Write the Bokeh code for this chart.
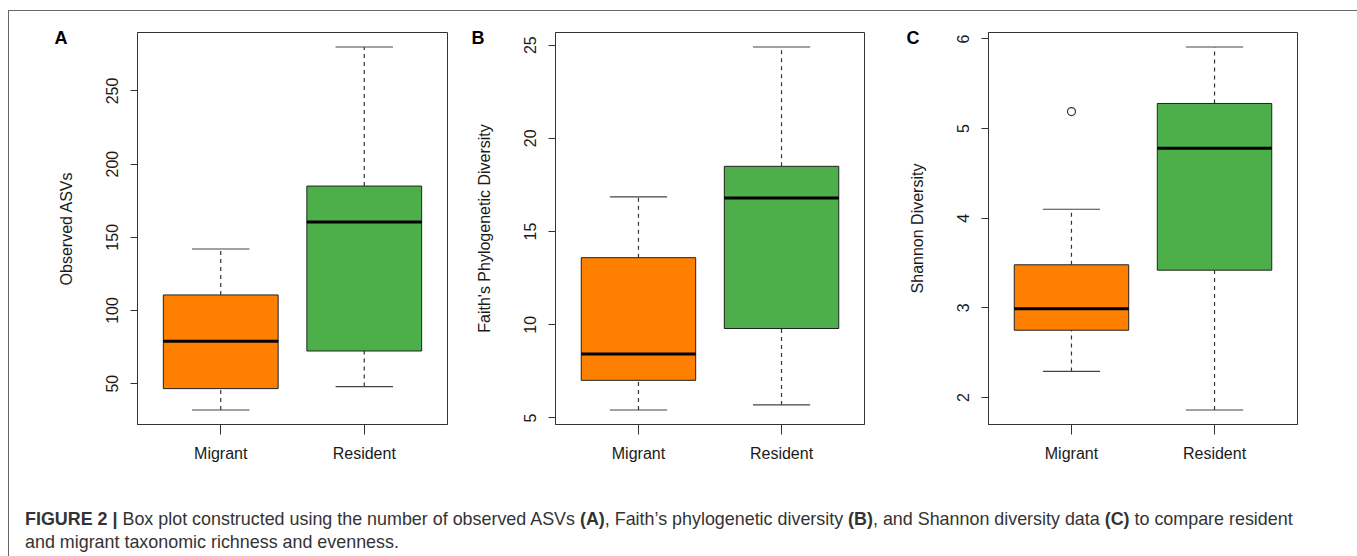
from bokeh.plotting import figure
from bokeh.models import (ColumnDataSource, FactorRange, Range1d, FixedTicker, Title, Div)
from bokeh.layouts import row, column
from bokeh.transform import dodge
from bokeh.embed import file_html
from bokeh.resources import INLINE

categories = ["Migrant", "Resident"]
box_colors = ["#FF7F00", "#4DAF4A"]

# Panel A: Observed ASVs
a_lower = [32, 48]
a_q1 = [46.6, 72.3]
a_median = [79, 160.5]
a_q3 = [110.6, 185]
a_upper = [142, 280]
a_outliers = []
a_ticks = [50, 100, 150, 200, 250]

# Panel B: Faith's Phylogenetic Diversity
b_lower = [5.43, 5.70]
b_q1 = [7.02, 9.8]
b_median = [8.43, 16.8]
b_q3 = [13.6, 18.5]
b_upper = [16.86, 24.9]
b_outliers = []
b_ticks = [5, 10, 15, 20, 25]

# Panel C: Shannon Diversity
c_lower = [2.29, 1.86]
c_q1 = [2.75, 3.42]
c_median = [2.99, 4.78]
c_q3 = [3.48, 5.28]
c_upper = [4.10, 5.91]
c_outliers = [("Migrant", 5.19)]
c_ticks = [2, 3, 4, 5, 6]

FONT = "Liberation Sans"
PAD_FRAC = 0.08  # R-style 4% each side of the category span


def make_panel(letter, ylabel, lower, q1, med, q3, upper, outliers, ticks,
               width, border_left, border_right, letter_dx):
    vals = lower + upper + [o[1] for o in outliers]
    lo, hi = min(vals), max(vals)
    pad = 0.04 * (hi - lo)
    yr = Range1d(lo - pad, hi + pad)
    p = figure(x_range=FactorRange(factors=categories, range_padding=PAD_FRAC,
                                   range_padding_units="percent"),
               y_range=yr,
               width=width, height=468,
               min_border_left=border_left, min_border_right=border_right,
               min_border_top=21, min_border_bottom=55,
               output_backend="svg", toolbar_location=None,
               background_fill_color="white", border_fill_color="white")
    p.xgrid.visible = False
    p.ygrid.visible = False
    p.outline_line_color = "#333333"
    p.outline_line_width = 1

    src = ColumnDataSource(dict(cat=categories, lower=lower, q1=q1, med=med,
                                q3=q3, upper=upper, color=box_colors))
    # whisker stems (dashed)
    p.segment(x0="cat", y0="q3", x1="cat", y1="upper", source=src,
              line_color="#333333", line_width=1.2, line_dash="4 4")
    p.segment(x0="cat", y0="lower", x1="cat", y1="q1", source=src,
              line_color="#333333", line_width=1.2, line_dash="4 4")
    # caps
    for col in ("upper", "lower"):
        p.segment(x0=dodge("cat", -0.2, range=p.x_range), y0=col,
                  x1=dodge("cat", 0.2, range=p.x_range), y1=col, source=src,
                  line_color="#444444", line_width=1.2)
    # boxes
    p.vbar(x="cat", top="q3", bottom="q1", width=0.8, source=src,
           fill_color="color", line_color="#222222", line_width=1)
    # medians
    p.segment(x0=dodge("cat", -0.4, range=p.x_range), y0="med",
              x1=dodge("cat", 0.4, range=p.x_range), y1="med", source=src,
              line_color="black", line_width=3)
    if outliers:
        osrc = ColumnDataSource(dict(cat=[o[0] for o in outliers],
                                     val=[o[1] for o in outliers]))
        p.scatter(x="cat", y="val", source=osrc, marker="circle", size=8,
                  fill_color=None, line_color="#333333", line_width=1.2)

    # axes
    p.yaxis.ticker = FixedTicker(ticks=ticks)
    p.yaxis.minor_tick_line_color = None
    p.yaxis.major_tick_in = 0
    p.yaxis.major_tick_out = 7
    p.yaxis.major_label_orientation = "vertical"
    p.yaxis.major_label_standoff = 12
    p.yaxis.axis_label = ylabel
    p.yaxis.axis_label_standoff = 29
    p.xaxis.major_tick_in = 0
    p.xaxis.major_tick_out = 10
    p.xaxis.major_label_standoff = 10
    for ax in (p.xaxis[0], p.yaxis[0]):
        ax.axis_line_color = "#333333"
        ax.major_tick_line_color = "#333333"
        ax.major_label_text_font = FONT
        ax.major_label_text_font_size = "16px"
        ax.major_label_text_color = "#1a1a1a"
        ax.axis_label_text_font = FONT
        ax.axis_label_text_font_size = "16px"
        ax.axis_label_text_font_style = "normal"
        ax.axis_label_text_color = "#1a1a1a"

    # panel letter as a left-aligned title, pulled left of and down into the frame's top edge
    p.title = Title(text=letter, align="left", vertical_align="bottom",
                    offset=letter_dx, standoff=-30, text_font=FONT,
                    text_font_size="18px", text_font_style="bold",
                    text_color="black")
    return p


pA = make_panel("A", "Observed ASVs", a_lower, a_q1, a_median, a_q3, a_upper,
                a_outliers, a_ticks, 446, 128, 8, -83)
pB = make_panel("B", "Faith's Phylogenetic Diversity", b_lower, b_q1, b_median,
                b_q3, b_upper, b_outliers, b_ticks, 435, 100, 26, -84)
pC = make_panel("C", "Shannon Diversity", c_lower, c_q1, c_median, c_q3,
                c_upper, c_outliers, c_ticks, 465, 98, 58, -82)

caption_html = ("<b>FIGURE 2 |</b> Box plot constructed using the number of observed ASVs "
                "<b>(A)</b>, Faith\u2019s phylogenetic diversity <b>(B)</b>, and Shannon "
                "diversity data <b>(C)</b> to compare resident<br>"
                "and migrant taxonomic richness and evenness.")
cap = Div(text=caption_html, width=1346, height=76,
          styles={"font-family": "'Liberation Sans', Arial, sans-serif",
                  "font-size": "17.9px", "line-height": "23px", "color": "#333333",
                  "padding-left": "11px", "padding-top": "24px",
                  "white-space": "nowrap", "box-sizing": "border-box"})

layout = column(row(pA, pB, pC), cap,
                styles={"border-left": "1px solid #666666",
                        "border-right": "1px solid #666666",
                        "border-top": "1px solid #666666",
                        "margin-top": "10px", "margin-left": "8px"})

open("out.html", "w").write(file_html(layout, INLINE))
